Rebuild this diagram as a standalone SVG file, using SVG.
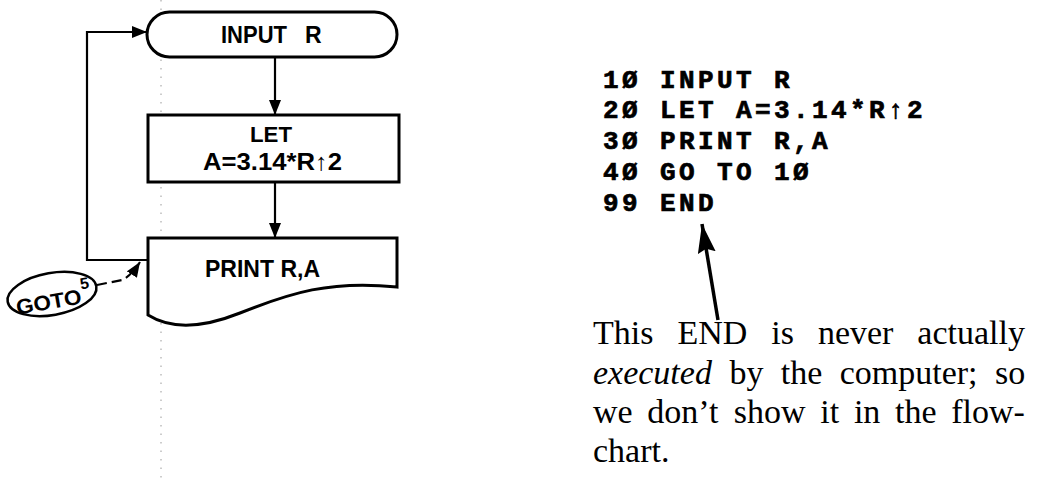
<svg xmlns="http://www.w3.org/2000/svg" width="1040" height="483" viewBox="0 0 1040 483">
<defs>
<style>
.box{fill:#fff;stroke:#000;stroke-width:3}
.conn{fill:none;stroke:#000;stroke-width:2.2}
.lbl{font-family:"Liberation Sans",Arial,sans-serif;font-weight:bold;fill:#000}
.note{font-family:"Liberation Sans",Arial,sans-serif;font-weight:bold;fill:#000}
.code{font-family:"Liberation Mono","Courier New",monospace;font-weight:bold;font-size:26px;letter-spacing:3.4px;fill:#000;stroke:#000;stroke-width:0.7}
.cap{font-family:"Liberation Serif","Times New Roman",serif;font-size:34px;fill:#000}
</style>
<marker id="ah" markerUnits="userSpaceOnUse" markerWidth="16" markerHeight="12" refX="15" refY="6" orient="auto">
<path d="M0,0 L15,6 L0,12 Z" fill="#000"/>
</marker>
<marker id="ahBig" markerUnits="userSpaceOnUse" markerWidth="30" markerHeight="18" refX="29" refY="9" orient="auto">
<path d="M0,0 L29,9 L0,18 L4,9 Z" fill="#000"/>
</marker>
</defs>
<rect width="1040" height="483" fill="#fff"/>
<line x1="161" y1="0" x2="161" y2="483" stroke="#9a9a9a" stroke-width="1" stroke-dasharray="1.5 7"/>

<g id="connectors">
<line class="conn" x1="275" y1="57" x2="275" y2="115" marker-end="url(#ah)"/>
<line class="conn" x1="275" y1="182" x2="275" y2="238" marker-end="url(#ah)"/>
<polyline class="conn" points="148,260 87,260 87,32 147,32" marker-end="url(#ah)"/>
<path class="conn" d="M97,285 L122,280 Q131,276 140,262" stroke-dasharray="10 5" marker-end="url(#ah)"/>
<line x1="718" y1="320" x2="702" y2="224" stroke="#000" stroke-width="3.5" marker-end="url(#ahBig)"/>
</g>

<g id="n-input">
<rect class="box" x="147" y="12" width="250" height="45" rx="22.5" ry="22.5"/>
<text class="lbl" font-size="23" x="221" y="43" textLength="66" lengthAdjust="spacingAndGlyphs">INPUT</text>
<text class="lbl" font-size="23" x="305" y="43">R</text>
</g>

<g id="n-let">
<rect class="box" x="148" y="115" width="251" height="67"/>
<text class="lbl" font-size="22" x="250" y="142" textLength="42" lengthAdjust="spacingAndGlyphs">LET</text>
<text class="lbl" font-size="24" x="203" y="170" textLength="139" lengthAdjust="spacingAndGlyphs">A=3.14*R↑2</text>
</g>

<g id="n-print">
<path class="box" d="M148,238 L397,238 L397,287 C330,280 290,293 240,313 C205,327 172,330 148,315 Z"/>
<text class="lbl" font-size="23" x="205" y="277" textLength="115" lengthAdjust="spacingAndGlyphs">PRINT R,A</text>
</g>

<g id="n-goto">
<ellipse cx="52" cy="294" rx="45" ry="21" fill="#fff" stroke="#000" stroke-width="2.5" transform="rotate(-10 52 294)"/>
<g transform="rotate(-10 50 303)">
<text class="note" font-size="21" x="16" y="309" textLength="66" lengthAdjust="spacingAndGlyphs">GOTO</text>
<text class="note" font-size="16" font-weight="normal" x="83" y="295">5</text>
</g>
</g>

<g id="code">
<text class="code" x="603" y="88">1Ø INPUT R</text>
<text class="code" x="603" y="118">2Ø LET A=3.14*R↑2</text>
<text class="code" x="603" y="149">3Ø PRINT R,A</text>
<text class="code" x="603" y="180">4Ø GO TO 1Ø</text>
<text class="code" x="603" y="211">99 END</text>
</g>

<g id="caption">
<text class="cap" y="344"><tspan x="593">This</tspan><tspan x="677.4">END</tspan><tspan x="771.3">is</tspan><tspan x="817.9">never</tspan><tspan x="917.3">actually</tspan></text>
<text class="cap" y="384"><tspan x="593" font-style="italic">executed</tspan><tspan x="729.4">by</tspan><tspan x="780.8">the</tspan><tspan x="839.7">computer;</tspan><tspan x="995">so</tspan></text>
<text class="cap" y="423"><tspan x="593">we</tspan><tspan x="647.3">don’t</tspan><tspan x="733.8">show</tspan><tspan x="820.3">it</tspan><tspan x="853.9">in</tspan><tspan x="895.1">the</tspan><tspan x="951.3">flow-</tspan></text>
<text class="cap" y="462" x="593">chart.</text>
</g>
</svg>
